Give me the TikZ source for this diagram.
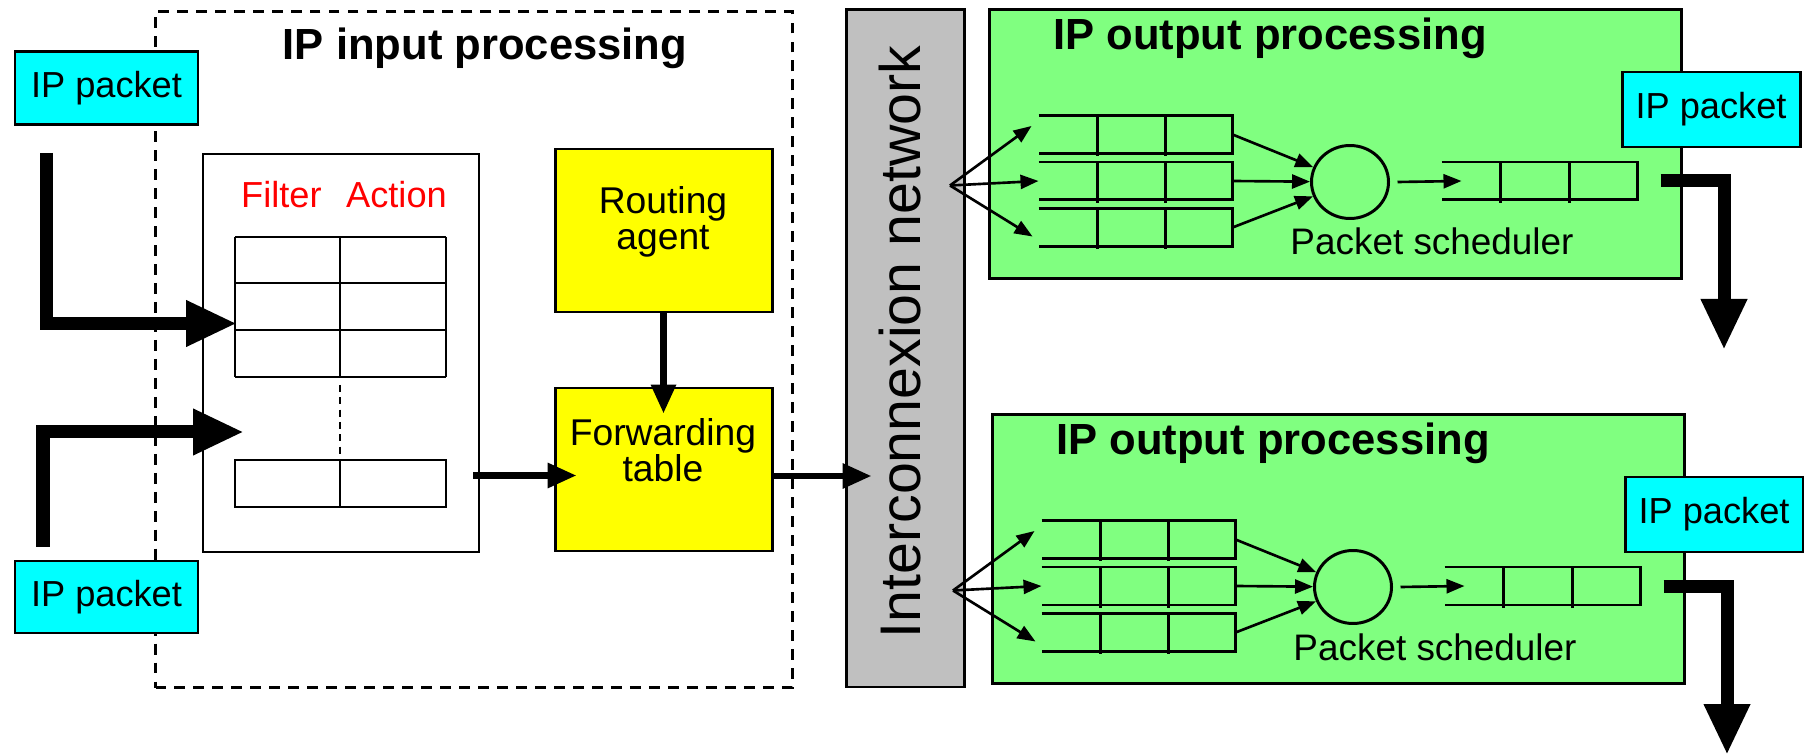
\documentclass[tikz,border=0pt]{standalone}
\usepackage{fontspec}
\setmainfont{Liberation Sans}
\usetikzlibrary{arrows.meta,shapes.geometric}
\definecolor{pktcyan}{RGB}{0,255,255}
\definecolor{ylw}{RGB}{255,255,0}
\definecolor{outgreen}{RGB}{128,255,128}
\definecolor{netgray}{RGB}{192,192,192}
\begin{document}
\begin{tikzpicture}[line width=0.85pt,
  box/.style={draw, inner sep=0pt},
  pkt/.style={box, fill=pktcyan, font=\fontsize{10.3}{10.8}\selectfont},
  ybox/.style={box, fill=ylw, minimum width=2.17cm, minimum height=1.63cm},
  txt/.style={font=\fontsize{10.6}{10.4}\selectfont, align=center, inner sep=0pt},
  ttl/.style={font=\bfseries\fontsize{12.4}{14}\selectfont, inner sep=0pt, anchor=base},
  queue/.style={minimum width=1.91cm, minimum height=0.35cm, inner sep=0pt},
  thickarr/.style={line width=0.13cm, line join=miter, -{Triangle[length=0.51cm,width=0.43cm]}},
  medarr/.style={line width=1.8pt, -{Triangle[length=0.29cm,width=0.24cm]}},
  thinarr/.style={line width=0.75pt, -{Triangle[length=0.18cm,width=0.14cm]}}]
\useasboundingbox (0,0) rectangle (18.04,-7.54);

\node[box, dash pattern=on 3.1pt off 2.3pt, minimum width=6.365cm, minimum height=6.76cm] (inproc) at (4.7375,-3.495) {};
\node[ttl] (inttl) at (4.85,-0.60) {IP input processing};
\node[pkt, minimum width=1.83cm, minimum height=0.73cm] (pkt1) at (1.065,-0.885) {IP packet};
\node[pkt, minimum width=1.83cm, minimum height=0.72cm] (pkt2) at (1.065,-5.97) {IP packet};

\node[box, fill=white, minimum width=2.76cm, minimum height=3.98cm] (filt) at (3.41,-3.53) {};
\node[txt, text=red, anchor=base, font=\fontsize{10.3}{10.3}\selectfont] (fa) at (3.44,-2.08) {Filter\hspace{7pt}Action};
\foreach \y in {-2.37,-2.83,-3.30,-3.77} \draw (2.35,\y) -- (4.46,\y);
\foreach \x in {2.35,3.40,4.46} \draw (\x,-2.37) -- (\x,-3.77);
\draw (2.35,-4.60) rectangle (4.46,-5.07) (3.40,-4.60) -- (3.40,-5.07);
\draw[dash pattern=on 2pt off 1.5pt] (3.40,-3.85) -- (3.40,-4.55);

\node[ybox] (rout) at (6.635,-2.305) {};
\node[txt] (routtxt) at (6.63,-2.22) {Routing\\agent};
\node[ybox] (fwd) at (6.635,-4.695) {};
\node[txt] (fwdtxt) at (6.63,-4.50) {Forwarding\\table};
\draw[medarr] (rout.south) -- ([yshift=-0.27cm]fwd.north);
\draw[medarr] ([xshift=-0.07cm,yshift=-0.06cm]fwd.west -| filt.east) -- ([xshift=0.23cm,yshift=-0.06cm]fwd.west);

\coordinate (src1) at (0.463,-1.53);
\coordinate (in1) at (2.37,-3.235);
\draw[thickarr] (src1) |- (in1);
\coordinate (src2) at (0.43,-5.47);
\coordinate (in2) at (2.44,-4.32);
\draw[thickarr] (src2) |- (in2);

\node[box, fill=netgray, minimum width=1.18cm, minimum height=6.77cm] (net) at (9.05,-3.485) {};
\node[font=\fontsize{16.3}{18}\selectfont, rotate=90, anchor=base, inner sep=0pt] (nettxt) at (9.20,-3.42) {Interconnexion network};
\draw[medarr] ([yshift=-0.065cm]fwd.east) -- ([xshift=0.27cm,yshift=-0.065cm]fwd.east -| net.west);

\foreach \i/\dx/\dy in {1/0/0, 2/0.03/-4.05} {
\begin{scope}[shift={(\dx,\dy)}]
\node[box, fill=outgreen, minimum width=6.92cm, minimum height=2.69cm] (out\i) at (13.35,-1.44) {};
\node[ttl] (outttl\i) at (12.70,-0.50) {IP output processing};
\node[pkt, minimum width=1.78cm, minimum height=0.75cm] (opkt\i) at (17.11,-1.095) {IP packet};
\coordinate (hub\i) at (9.50,-1.855);
\foreach \j/\y in {1/-1.345, 2/-1.81, 3/-2.275} {
  \node[queue] (q\i\j) at (11.355,\y) {};
  \draw (q\i\j.north west) -- (q\i\j.north east) -- (q\i\j.south east) -- (q\i\j.south west);
  \draw ([xshift=0.59cm]q\i\j.north west) -- ([xshift=0.59cm,yshift=-0.03cm]q\i\j.south west)
        ([xshift=1.27cm]q\i\j.north west) -- ([xshift=1.27cm,yshift=-0.03cm]q\i\j.south west);
}
\node[ellipse, draw, minimum width=0.77cm, minimum height=0.73cm, inner sep=0pt] (s\i) at (13.50,-1.82) {};
\draw[thinarr] (hub\i) -- ([xshift=-0.07cm,yshift=0.085cm]q\i1.west);
\draw[thinarr] (hub\i) -- (q\i2.west);
\draw[thinarr] (hub\i) -- ([xshift=-0.06cm,yshift=-0.09cm]q\i3.west);
\foreach \j in {1,2,3} \draw[thinarr] (q\i\j.east) -- (s\i);
\node[queue, minimum width=1.93cm, minimum height=0.35cm] (oq\i) at (15.395,-1.81) {};
\draw (oq\i.north west) -- (oq\i.north east) -- (oq\i.south east) -- (oq\i.south west);
\draw ([xshift=0.59cm]oq\i.north west) -- ([xshift=0.59cm,yshift=-0.03cm]oq\i.south west)
      ([xshift=1.28cm]oq\i.north west) -- ([xshift=1.28cm,yshift=-0.03cm]oq\i.south west);
\draw[thinarr] ([xshift=0.075cm]s\i.east) -- ([xshift=0.2cm]oq\i.west);
\node[txt, anchor=base, font=\fontsize{10.5}{10.5}\selectfont] (sch\i) at (14.32,-2.55) {Packet scheduler};
\coordinate (oend\i) at (17.24,-3.50);
\draw[thickarr] ([xshift=0.23cm]oq\i.east) -| (oend\i);
\end{scope}
}
\end{tikzpicture}
\end{document}
